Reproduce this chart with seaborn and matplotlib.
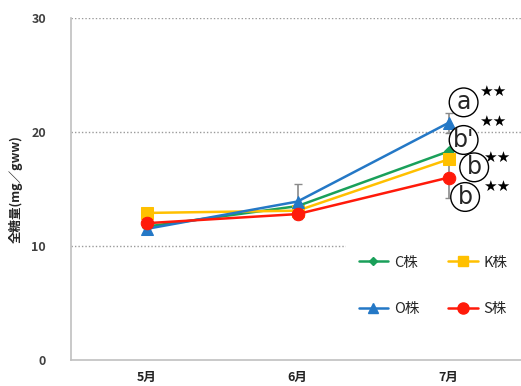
import matplotlib
matplotlib.use("Agg")
import matplotlib.pyplot as plt
import seaborn as sns
import pandas as pd
from matplotlib.lines import Line2D

months = ["5月", "6月", "7月"]
strains = ["C株", "K株", "O株", "S株"]
c_vals = [11.7, 13.5, 18.3]
k_vals = [12.9, 13.1, 17.6]
o_vals = [11.5, 13.9, 20.8]
s_vals = [12.0, 12.8, 16.0]
o_err = [0.3, 1.5, 0.9]
s_err = [0.2, 0.3, 1.8]
sig_letters = ["a", "b'", "b", "b"]
sig_marks = ["★★", "★★", "★★", "★★"]

colors = {"C株": "#1aa05a", "K株": "#ffc000", "O株": "#2478c6", "S株": "#ff1a0a"}
markers = {"C株": "D", "K株": "s", "O株": "^", "S株": "o"}
msize = {"C株": 5, "K株": 8, "O株": 8, "S株": 9}

df = pd.DataFrame({
    "month": months * 4,
    "x": [0, 1, 2] * 4,
    "strain": sum([[s] * 3 for s in strains], []),
    "value": c_vals + k_vals + o_vals + s_vals,
})

sns.set_style("white")
plt.rcParams["font.family"] = ["Noto Sans CJK JP", "DejaVu Sans"]

fig = plt.figure(figsize=(5.21, 3.86), dpi=100)
ax = fig.add_axes([71 / 521, (386 - 360) / 386, (524 - 71) / 521, (360 - 18) / 386])

# error bars drawn beneath the lines
ax.errorbar([0, 1, 2], o_vals, yerr=o_err, fmt="none", ecolor="#8a8a8a",
            elinewidth=1.2, capsize=3, zorder=1)
ax.errorbar([0, 1, 2], s_vals, yerr=s_err, fmt="none", ecolor="#8a8a8a",
            elinewidth=1.2, capsize=3, zorder=1)

for s in strains:
    sub = df[df["strain"] == s]
    sns.lineplot(data=sub, x="x", y="value", ax=ax, color=colors[s],
                 marker=markers[s], markersize=msize[s], markeredgecolor=colors[s],
                 linewidth=1.8, legend=False, zorder=3)

ax.set_xlim(-0.5, 2.5)
ax.set_ylim(0, 30)
ax.set_yticks([0, 10, 20, 30])
ax.set_yticklabels(["0", "10", "20", "30"], fontsize=9, fontweight="bold", color="#404040")
ax.set_xticks([0, 1, 2])
ax.set_xticklabels(months, fontsize=9, fontweight="bold", color="#222222")
ax.set_xticks([-0.5, 0.5, 1.5, 2.5], minor=True)
ax.tick_params(axis="x", which="major", length=0, pad=8)
ax.tick_params(axis="x", which="minor", length=4, color="#bbbbbb", direction="out")
ax.tick_params(axis="y", length=4, color="#bbbbbb", direction="out", pad=14)
ax.set_xlabel("")
ax.set_ylabel("全糖量(mg／gww)", fontsize=9, fontweight="bold", labelpad=6)

for y in [10, 20, 30]:
    ax.axhline(y, color="#9a9a9a", linestyle=(0, (1, 1.5)), linewidth=1, zorder=0)

for sp in ["top", "right"]:
    ax.spines[sp].set_visible(False)
for sp in ["left", "bottom"]:
    ax.spines[sp].set_color("#c0c0c0")
    ax.spines[sp].set_linewidth(1.2)

# significance letters in circles with stars
letter_pos = [(2.10, 22.6), (2.10, 19.3), (2.17, 16.9), (2.11, 14.3)]
star_pos = [(2.29, 23.6), (2.29, 20.9), (2.32, 17.8), (2.32, 15.2)]
for (lx, ly), (sx, sy), lt, st in zip(letter_pos, star_pos, sig_letters, sig_marks):
    ax.text(lx, ly, lt, fontsize=17, ha="center", va="center", zorder=5,
            family=["DejaVu Sans"],
            bbox=dict(boxstyle="circle,pad=0.1", fc="white", ec="black", lw=1.0))
    ax.text(sx, sy, st, fontsize=11, ha="center", va="center", zorder=5,
            family=["DejaVu Sans"], color="black")

# legend: row 1 C/K, row 2 O/S (column-major filling)
order = ["C株", "O株", "K株", "S株"]
handles = [Line2D([0], [0], color=colors[s], marker=markers[s],
                  markersize=msize[s] - 1, linewidth=1.8) for s in order]
leg = ax.legend(handles, order, loc="lower left", bbox_to_anchor=(0.59, 0.07),
                ncol=2, frameon=True, fontsize=10.5, handlelength=2.0,
                handletextpad=0.4, columnspacing=2.0, labelspacing=2.2,
                borderpad=0.9)
leg.get_frame().set_edgecolor("white")
leg.get_frame().set_facecolor("white")
leg.get_frame().set_alpha(1.0)
leg.set_zorder(4)

fig.savefig("out.png", dpi=100)
